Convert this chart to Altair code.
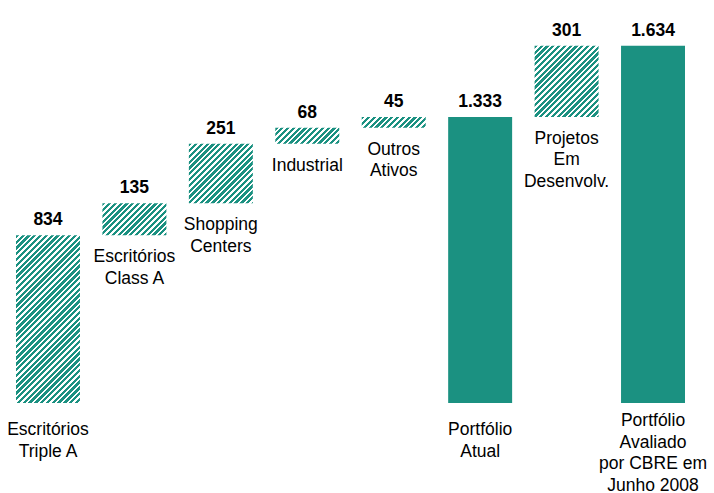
import math
import altair as alt
import pandas as pd

# ---- data ----
categories = [
    "Escritórios\nTriple A",
    "Escritórios\nClass A",
    "Shopping\nCenters",
    "Industrial",
    "Outros\nAtivos",
    "Portfólio\nAtual",
    "Projetos\nEm\nDesenvolv.",
    "Portfólio\nAvaliado\npor CBRE em\nJunho 2008",
]
values = [834, 135, 251, 68, 45, 1333, 301, 1634]
value_labels = ["834", "135", "251", "68", "45", "1.333", "301", "1.634"]
kinds = ["step", "step", "step", "step", "step", "total", "step", "total"]

# ---- styling / layout ----
TEAL = "#1b9181"
WHITE = "#ffffff"
FONT = "Liberation Sans"
W, H = 669, 373
PAD_INNER = 0.26
Y0, Y1 = 126, 1700
STRIPE = 4.1  # perpendicular stripe period in px
TEAL_FRAC = 0.56

rows = []
running = 0
for i, (c, v, lab, k) in enumerate(zip(categories, values, value_labels, kinds)):
    if k == "step":
        start, end = running, running + v
        running = end
    else:
        start, end = 0, v
    rows.append({"id": i, "cat": c, "start": start, "end": end, "vlabel": lab,
                 "kind": k, "lines": c.count("\n") + 1})
df = pd.DataFrame(rows)

px_per_unit = H / (Y1 - Y0)
bandwidth = W / (len(categories) - PAD_INNER) * (1 - PAD_INNER)


def hatch(w, h):
    c = (1 / h + 1 / w) / (1 / h ** 2 + 1 / w ** 2)
    n = (w + h) / (math.sqrt(2) * STRIPE)
    period = 1 / n
    stops = []
    t = 0.0
    while t < 1:
        a = min(t + period * TEAL_FRAC, 1)
        b = min(t + period, 1)
        stops += [
            {"offset": round(t, 5), "color": TEAL},
            {"offset": round(a, 5), "color": TEAL},
            {"offset": round(a, 5), "color": WHITE},
            {"offset": round(b, 5), "color": WHITE},
        ]
        t += period
    return {"gradient": "linear", "x1": 0, "y1": 0,
            "x2": c / h, "y2": c / w, "stops": stops}


x_enc = alt.X("id:O", axis=None,
              scale=alt.Scale(paddingInner=PAD_INNER, paddingOuter=0))
y_scale = alt.Scale(domain=[Y0, Y1], nice=False, zero=False)

base = alt.Chart(df)

layers = []
# solid total bars
layers.append(
    base.transform_filter("datum.kind == 'total'")
    .mark_bar(fill=TEAL, clip=True, strokeWidth=0)
    .encode(x=x_enc, y=alt.Y("end:Q", scale=y_scale, axis=None), y2="start:Q")
)
# hatched step bars, one gradient per bar sized to its box
for r in rows:
    if r["kind"] != "step":
        continue
    h = (r["end"] - r["start"]) * px_per_unit
    layers.append(
        base.transform_filter(f"datum.id == {r['id']}")
        .mark_bar(fill=hatch(bandwidth, h), clip=True, strokeWidth=0)
        .encode(x=x_enc, y=alt.Y("end:Q", scale=y_scale, axis=None), y2="start:Q")
    )

# value labels
layers.append(
    base.mark_text(font=FONT, fontSize=17.5, fontWeight="bold", color="#000000",
                   baseline="alphabetic", dy=-10)
    .encode(x=x_enc, y=alt.Y("end:Q", scale=y_scale, axis=None), text="vlabel:N")
)

txt = dict(font=FONT, fontSize=17.5, color="#000000", baseline="top",
           lineBreak="\n", lineHeight=21.5)
# category labels under floating bars
layers.append(
    base.transform_filter("datum.start > 0")
    .mark_text(dy=13, **txt)
    .encode(x=x_enc, y=alt.Y("start:Q", scale=y_scale, axis=None), text="cat:N")
)
# category labels under grounded bars
layers.append(
    base.transform_filter("datum.start == 0 && datum.lines < 4")
    .mark_text(dy=18, **txt)
    .encode(x=x_enc, y=alt.datum(Y0, scale=y_scale, axis=None), text="cat:N")
)
layers.append(
    base.transform_filter("datum.start == 0 && datum.lines >= 4")
    .mark_text(dy=9, **txt)
    .encode(x=x_enc, y=alt.datum(Y0, scale=y_scale, axis=None), text="cat:N")
)

chart = (
    alt.layer(*layers)
    .properties(width=W, height=H,
                autosize=alt.AutoSizeParams(type="none"),
                padding={"left": 16, "top": 30, "right": 29, "bottom": 90})
    .configure_view(strokeWidth=0)
)

chart.save("out.html", embed_options={"renderer": "svg", "actions": False})
